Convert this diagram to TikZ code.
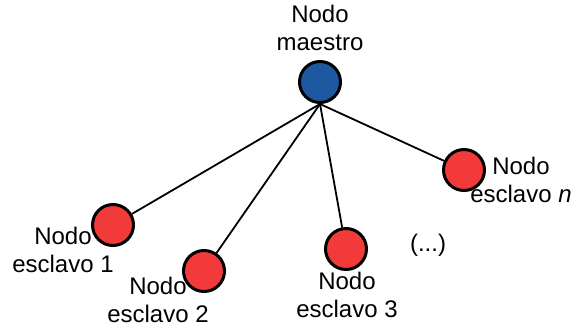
\documentclass[tikz,border=0pt]{standalone}
\usepackage{fontspec}
\setmainfont{Liberation Sans}
\definecolor{mblue}{RGB}{30,88,160}
\definecolor{sred}{RGB}{242,58,58}
\begin{document}
\begin{tikzpicture}[x=1pt,y=-1pt,
  master/.style={circle,draw=black,line width=3pt,fill=mblue,minimum size=41pt,inner sep=0pt},
  slave/.style={circle,draw=black,line width=3pt,fill=sred,minimum size=41pt,inner sep=0pt},
  lbl/.style={font=\fontsize{24}{28}\selectfont,align=center,inner sep=0pt,anchor=base},
  link/.style={line width=1.8pt,black}]
\useasboundingbox (0,0) rectangle (575,329);
\node[master] (m) at (320,82) {};
\node[slave] (s1) at (113,225) {};
\node[slave] (s2) at (204,271) {};
\node[slave] (s3) at (346,249) {};
\node[slave] (sn) at (464,170) {};
\draw[link] (m.south) -- (s1);
\draw[link] (m.south) -- (s2);
\draw[link] (m.south) -- (s3);
\draw[link] (m.south) -- (sn);
\node[lbl] (lm) at (320,51) {Nodo\\maestro};
\node[lbl] (l1) at (63,272) {Nodo\\esclavo 1};
\node[lbl] (l2) at (158,322) {Nodo\\esclavo 2};
\node[lbl] (l3) at (347,317) {Nodo\\esclavo 3};
\node[lbl] (ln) at (521,202) {Nodo\\esclavo \textit{n}};
\node[lbl] (dots) at (428,251) {(...)};
\end{tikzpicture}
\end{document}
